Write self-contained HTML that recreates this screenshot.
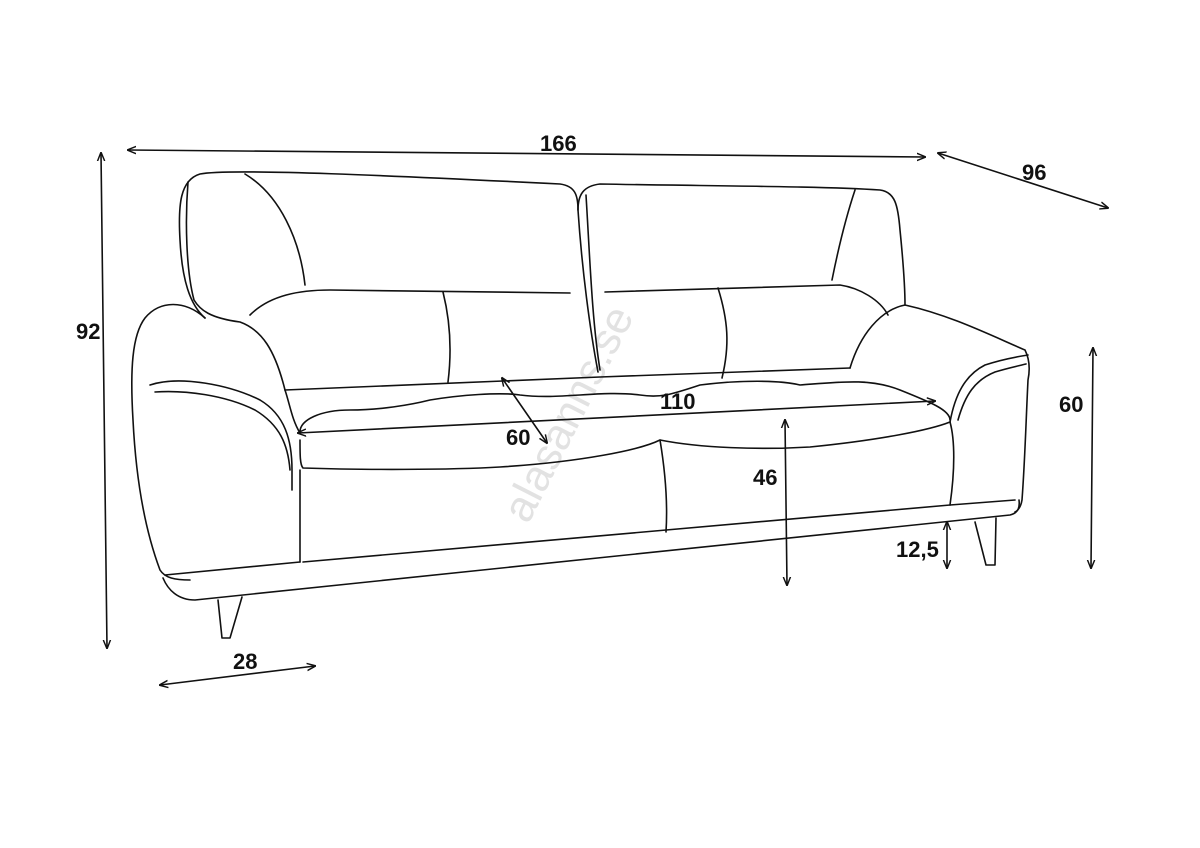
<!DOCTYPE html>
<html><head><meta charset="utf-8"><style>
html,body{margin:0;padding:0;background:#fff;}
svg{display:block}
text{font-family:"Liberation Sans",Arial,sans-serif;font-weight:bold;font-size:22px;fill:#111}
</style></head><body>
<svg width="1200" height="848" viewBox="0 0 1200 848" xmlns="http://www.w3.org/2000/svg">
<defs>
<marker id="a" viewBox="0 0 10 10" refX="9" refY="5" markerWidth="9" markerHeight="9" orient="auto-start-reverse" markerUnits="userSpaceOnUse"><path d="M0,1 L10,5 L0,9" fill="none" stroke="#111" stroke-width="1.6"/></marker>
</defs>
<text x="528" y="525" transform="rotate(-63 528 525)" style="font-weight:normal;font-size:44px;fill:#e2e2e2">alasanns.se</text>
<g fill="none" stroke="#111" stroke-width="1.6" stroke-linejoin="round" stroke-linecap="round">
<path d="M205,318 C190,305 182,280 180,240 C178,205 180,180 200,174 C230,168 400,176 560,184 C575,186 578,195 578,210 C582,270 590,330 598,372"/>
<path d="M188,182 C185,220 186,270 194,300 C200,310 210,318 240,322 C262,330 275,350 285,390"/>
<path d="M245,174 C280,195 300,240 305,285"/>
<path d="M250,315 C270,295 300,290 330,290 L570,293"/>
<path d="M443,292 C450,320 452,350 448,382"/>
<path d="M578,210 C578,195 583,186 600,184 C700,186 820,186 880,190 C895,192 898,205 900,230 C903,260 905,285 905,305"/>
<path d="M586,195 C590,260 592,320 600,370"/>
<path d="M855,190 C845,220 838,250 832,280"/>
<path d="M605,292 L840,285 C860,288 880,300 888,315"/>
<path d="M718,288 C728,320 730,345 722,378"/>
<path d="M205,318 C185,300 160,300 145,318 C132,335 130,370 133,420 C136,480 145,530 160,570 C165,578 175,580 190,580"/>
<path d="M150,385 C180,375 230,385 260,400 C285,415 292,440 292,470 L292,490"/>
<path d="M155,392 C185,390 225,395 255,410 C280,425 288,445 290,470"/>
<path d="M300,470 L300,562"/>
<path d="M285,390 C290,405 292,420 300,433"/>
<path d="M285,390 L600,377 L850,368"/>
<path d="M300,432 C300,420 320,410 350,410 C380,410 410,405 430,400 C460,395 500,392 520,395 C560,400 600,390 640,395 C660,398 670,395 700,385 C740,380 780,380 800,385 C840,382 870,378 900,390 C930,402 950,410 950,420"/>
<path d="M300,440 C300,455 300,465 303,468 C360,470 450,470 500,467 C580,462 640,450 660,440 C700,448 760,450 810,447 C880,440 930,430 950,422"/>
<path d="M660,440 C665,470 668,500 666,532"/>
<path d="M950,422 C955,440 955,470 950,505"/>
<path d="M850,368 C860,335 880,310 905,305 C950,315 990,335 1025,350 C1030,360 1030,370 1028,380 C1026,420 1025,460 1022,500 C1021,506 1019,510 1015,512"/>
<path d="M950,422 C955,395 965,375 985,365 C1000,360 1015,357 1028,355"/>
<path d="M958,420 C965,395 975,380 995,372 C1008,368 1018,366 1026,364"/>
<path d="M303,562 L950,505"/>
<path d="M165,575 L300,562"/>
<path d="M950,505 L1015,500"/>
<path d="M163,578 C168,590 178,600 195,600 L1010,515 C1018,513 1020,508 1019,500"/>
<path d="M218,600 L222,638 L230,638 L242,597"/>
<path d="M975,522 L986,565 L995,565 L996,518"/>
<path d="M128,150 L925,157" marker-start="url(#a)" marker-end="url(#a)"/>
<path d="M938,153 L1108,208" marker-start="url(#a)" marker-end="url(#a)"/>
<path d="M101,153 L107,648" marker-start="url(#a)" marker-end="url(#a)"/>
<path d="M1093,348 L1091,568" marker-start="url(#a)" marker-end="url(#a)"/>
<path d="M947,522 L947,568" marker-start="url(#a)" marker-end="url(#a)"/>
<path d="M785,420 L787,585" marker-start="url(#a)" marker-end="url(#a)"/>
<path d="M160,685 L315,666" marker-start="url(#a)" marker-end="url(#a)"/>
<path d="M298,433 L935,401" marker-start="url(#a)" marker-end="url(#a)"/>
<path d="M502,378 L547,443" marker-start="url(#a)" marker-end="url(#a)"/>
</g>
<text x="540" y="151">166</text>
<text x="1022" y="180">96</text>
<text x="76" y="339">92</text>
<text x="1059" y="412">60</text>
<text x="896" y="557">12,5</text>
<text x="753" y="485">46</text>
<text x="233" y="669">28</text>
<text x="660" y="409">110</text>
<text x="506" y="445">60</text>
</svg>
</body></html>
